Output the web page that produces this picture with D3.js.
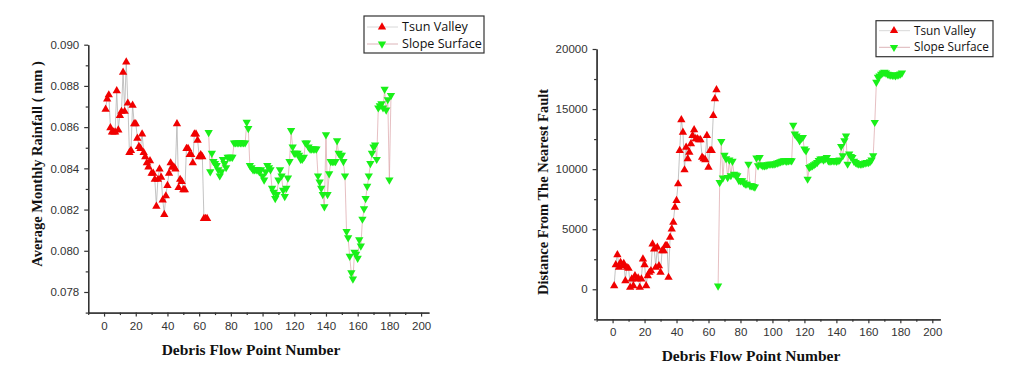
<!DOCTYPE html>
<html><head><meta charset="utf-8">
<script src="https://cdn.jsdelivr.net/npm/d3@7"></script>
<style>body{margin:0;background:#fff}svg{display:block}</style></head>
<body>
<svg id="c" width="1010" height="369"></svg>
<script>
const seriesNames = ["Tsun Valley", "Slope Surface"];
const tsunStart = 1, slopeStart = 66;
const tsunRain = [0.0869,0.0874,0.0876,0.0860,0.0858,0.0858,0.0858,0.0878,0.0859,0.0866,
  0.0868,0.0887,0.0868,0.0892,0.0872,0.0848,0.0849,0.0871,0.0862,0.0862,
  0.0855,0.0851,0.0850,0.0857,0.0848,0.0846,0.0843,0.0841,0.0844,0.0838,
  0.0838,0.0835,0.0822,0.0835,0.0840,0.0836,0.0825,0.0818,0.0827,0.0832,
  0.0838,0.0843,0.0841,0.0841,0.0840,0.0862,0.0831,0.0835,0.0834,0.0830,
  0.0830,0.0850,0.0850,0.0847,0.0847,0.0843,0.0857,0.0857,0.0854,0.0846,
  0.0847,0.0846,0.0816,0.0816,0.0816];
const slopeRain = [0.0857,0.0838,0.0847,0.0843,0.0842,0.0841,0.0839,0.0836,0.0838,0.0844,
  0.0842,0.0840,0.0845,0.0845,0.0845,0.0845,0.0852,0.0852,0.0852,0.0852,
  0.0852,0.0852,0.0852,0.0852,0.0862,0.0859,0.0841,0.0840,0.0839,0.0839,
  0.0839,0.0839,0.0838,0.0839,0.0836,0.0834,0.0838,0.0841,0.0840,0.0839,
  0.0830,0.0828,0.0825,0.0827,0.0834,0.0839,0.0836,0.0829,0.0826,0.0830,
  0.0835,0.0843,0.0858,0.0850,0.0847,0.0847,0.0847,0.0846,0.0844,0.0844,
  0.0845,0.0852,0.0852,0.0850,0.0849,0.0849,0.0849,0.0849,0.0849,0.0836,
  0.0833,0.0830,0.0827,0.0821,0.0856,0.0827,0.0837,0.0843,0.0843,0.0843,
  0.0843,0.0853,0.0847,0.0846,0.0846,0.0843,0.0836,0.0809,0.0806,0.0797,
  0.0789,0.0786,0.0799,0.0798,0.0796,0.0805,0.0802,0.0815,0.0820,0.0825,
  0.0831,0.0836,0.0842,0.0847,0.0850,0.0851,0.0844,0.0869,0.0870,0.0871,
  0.0869,0.0878,0.0868,0.0873,0.0834,0.0875];
const tsunDist = [358,2108,2941,1883,2300,2025,2200,775,1883,1800,
  217,917,358,1192,917,1000,217,917,2583,2108,
  358,1192,1467,1600,3833,3417,1883,3550,2025,1467,
  3275,3275,3692,3700,1050,4383,5083,5633,6883,7442,
  8833,11608,14167,13133,10000,11883,10917,11467,12167,12858,
  13333,12583,12583,12500,12500,11050,10917,10833,12858,10217,
  11608,11608,14525,15917,16667];
const slopeDist = [217,8833,12250,9200,11100,10800,9250,10700,9400,10600,
  9525,9450,9383,9000,8967,8967,8800,8692,8692,10358,
  8550,8550,8500,8450,10858,10217,10917,10300,10217,10217,
  10250,10300,10358,10358,10358,10358,10400,10450,10500,10550,
  10600,10633,10633,10600,10633,10650,10633,13600,12858,12700,
  12583,12300,12500,12583,11608,11467,9108,10083,10150,10217,
  10300,10400,10500,10650,10775,10775,10700,10800,10917,10633,
  10600,10633,10633,10633,10600,10633,10700,11833,11050,12300,
  12700,10358,11192,11000,10917,10600,10500,10400,10358,10358,
  10358,10400,10450,10500,10500,10550,10700,11050,13833,17167,
  17583,17700,17850,17950,18000,17950,17850,17800,17775,17750,
  17750,17720,17775,17800,17858,17942];
const xTicks = [0,20,40,60,80,100,120,140,160,180,200];
const xMinor = [-10,10,30,50,70,90,110,130,150,170,190];
const rainTicks = [0.078,0.080,0.082,0.084,0.086,0.088,0.090];
const rainMinor = [0.077,0.079,0.081,0.083,0.085,0.087,0.089];
const distTicks = [0,5000,10000,15000,20000];
const distMinor = [-2500,2500,7500,12500,17500];

const svg = d3.select("#c");
const RED = "#f00000", GREEN = "#19f019";
const AX = "#333";

function toPts(arr, start) { return arr.map((v, i) => ({x: start + i, y: v})); }

function panel(cfg) {
  const g = svg.append("g");
  const x = d3.scaleLinear().domain([-10, 205]).range([cfg.xl, cfg.xr]);
  const y = d3.scaleLinear().domain(cfg.yDomain).range([cfg.yb, cfg.yt]);

  g.append("g").attr("transform", `translate(0,${cfg.yb})`)
    .call(d3.axisBottom(x).tickValues(xTicks).tickSize(4).tickSizeOuter(0).tickPadding(5));
  g.append("g").attr("transform", `translate(0,${cfg.yb})`)
    .call(d3.axisBottom(x).tickValues(xMinor).tickSize(2.5).tickSizeOuter(0).tickFormat(""));
  g.append("g").attr("transform", `translate(${cfg.xl},0)`)
    .call(d3.axisLeft(y).tickValues(cfg.ticks).tickSize(4).tickSizeOuter(0).tickPadding(5).tickFormat(cfg.fmt));
  g.append("g").attr("transform", `translate(${cfg.xl},0)`)
    .call(d3.axisLeft(y).tickValues(cfg.minor).tickSize(2.5).tickSizeOuter(0).tickFormat(""));
  g.selectAll(".domain").attr("stroke", AX).attr("stroke-width", 1.3);
  g.selectAll(".tick line").attr("stroke", AX).attr("stroke-width", 1.2);
  g.selectAll(".tick text").attr("font-family", "Liberation Sans, Arial, sans-serif")
    .attr("font-size", 11.5).attr("fill", "#333");

  g.append("text").attr("x", cfg.xTitleX).attr("y", cfg.xTitleY).attr("text-anchor", "middle")
    .attr("font-family", "Liberation Serif, Times New Roman, serif").attr("font-weight", "bold")
    .attr("font-size", 15.5).attr("fill", "#111").text("Debris Flow Point Number");
  g.append("text").attr("transform", `translate(${cfg.yTitleX},${cfg.yTitleY}) rotate(-90)`)
    .attr("text-anchor", "middle")
    .attr("font-family", "Liberation Serif, Times New Roman, serif").attr("font-weight", "bold")
    .attr("font-size", 14.5).attr("fill", "#111").text(cfg.yTitle);

  const line = d3.line().x(d => x(d.x)).y(d => y(d.y));
  const series = [
    {pts: toPts(cfg.red, tsunStart), color: RED, lc: "#a9a9a9", rot: 0},
    {pts: toPts(cfg.green, slopeStart), color: GREEN, lc: "#dba3a8", rot: 180}
  ];
  series.forEach(s => {
    g.append("path").attr("d", line(s.pts)).attr("fill", "none")
      .attr("stroke", s.lc).attr("stroke-width", 0.7);
  });
  const sym = d3.symbol().type(d3.symbolTriangle).size(30);
  series.forEach(s => {
    g.append("g").selectAll("path").data(s.pts).join("path")
      .attr("d", sym)
      .attr("transform", d => `translate(${x(d.x)},${y(d.y) + (s.rot ? -0.8 : 0.8)}) rotate(${s.rot})`)
      .attr("fill", s.color);
  });

  const L = cfg.legend;
  g.append("rect").attr("x", L.x).attr("y", L.y).attr("width", L.w).attr("height", L.h)
    .attr("fill", "#fff").attr("stroke", "#333").attr("stroke-width", 1.2);
  seriesNames.forEach((name, i) => {
    const cy = L.y + L.rows[i];
    g.append("line").attr("x1", L.x + 3).attr("x2", L.x + 34).attr("y1", cy).attr("y2", cy)
      .attr("stroke", i === 0 ? "#d8d8d8" : "#dcb4b8").attr("stroke-width", 1);
    g.append("path").attr("d", sym)
      .attr("transform", `translate(${L.x + 18},${cy}) rotate(${i === 0 ? 0 : 180})`)
      .attr("fill", i === 0 ? RED : GREEN);
    g.append("text").attr("x", L.x + 38).attr("y", cy).attr("dy", "0.35em")
      .attr("font-family", "Open Sans, Liberation Sans, sans-serif").attr("font-size", L.fs)
      .attr("fill", "#111").text(name);
  });
}

panel({
  xl: 88.2, xr: 429, yb: 312.6, yt: 44.7, yDomain: [0.077, 0.090],
  ticks: rainTicks, minor: rainMinor, fmt: d3.format(".3f"),
  red: tsunRain, green: slopeRain,
  xTitleX: 251, xTitleY: 355, yTitleX: 42, yTitleY: 164,
  yTitle: "Average Monthly Rainfall ( mm )",
  legend: {x: 364, y: 16, w: 120, h: 37, rows: [11, 28], fs: 12.6}
});
panel({
  xl: 596.6, xr: 940.3, yb: 319.3, yt: 49, yDomain: [-2500, 20000],
  ticks: distTicks, minor: distMinor, fmt: d3.format("d"),
  red: tsunDist, green: slopeDist,
  xTitleX: 751, xTitleY: 361, yTitleX: 548, yTitleY: 192,
  yTitle: "Distance From The Nearest Fault",
  legend: {x: 876, y: 20.7, w: 117, h: 36, rows: [10, 26.6], fs: 11.8}
});
</script>
</body></html>
